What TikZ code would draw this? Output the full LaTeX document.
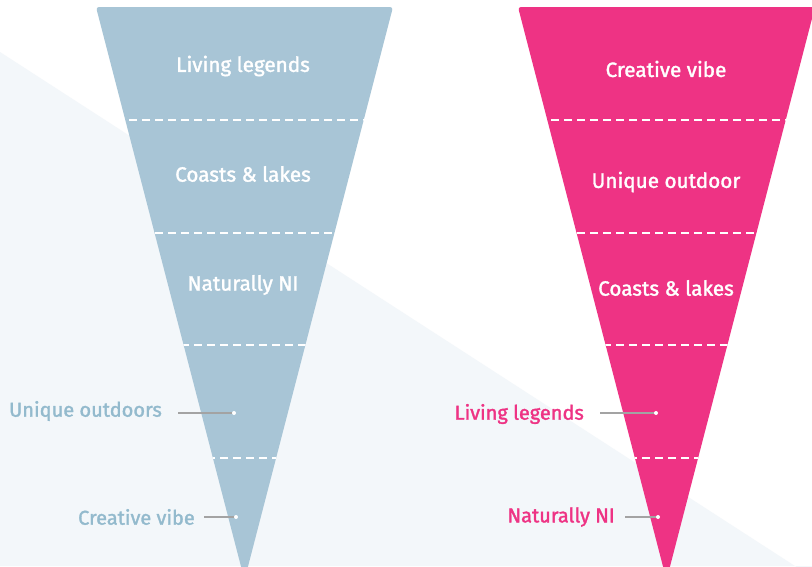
\documentclass[tikz,border=0pt]{standalone}
\usepackage{fontspec}
\setmainfont{Fira Sans}[FakeBold=1.6]
\definecolor{bgl}{HTML}{F3F7FA}
\definecolor{bluef}{HTML}{A8C5D6}
\definecolor{bluet}{HTML}{93BACD}
\definecolor{pinkf}{HTML}{EE3384}
\definecolor{leadc}{HTML}{A3A3A3}
\tikzset{
  inlabel/.style={text=white, font=\fontsize{20.7}{24}\selectfont, inner sep=0pt},
  extlabel/.style={font=\fontsize{20}{24}\selectfont, inner ysep=0pt, inner xsep=0pt, anchor=east},
  leader/.style={draw=leadc, line width=1.1pt},
  dashsep/.style={draw=white, line width=2.8pt, dash pattern=on 8pt off 5pt},
  dotm/.style={fill=white}
}
\begin{document}
\begin{tikzpicture}[x=1pt,y=-1pt]
\clip (0,0) rectangle (812,566);
\fill[white] (0,0) rectangle (812,566);
% background wedge
\fill[bgl] (0,52) -- (812,577) -- (812,566) -- (0,566) -- cycle;
% left funnel
\begin{scope}
\path[fill=bluef, rounded corners=3pt] (96,7) -- (393,7) -- (244.5,580) -- cycle;
\clip (96,7) -- (393,7) -- (244.5,580) -- cycle;
\foreach \yy in {120,233,345,458} \draw[dashsep] (90,\yy) -- (400,\yy);
\end{scope}
% right funnel
\begin{scope}
\path[fill=pinkf, rounded corners=3pt] (518,7) -- (815,7) -- (666.5,580) -- cycle;
\clip (518,7) -- (815,7) -- (666.5,580) -- cycle;
\foreach \yy in {120,233,345,458} \draw[dashsep] (512,\yy) -- (822,\yy);
\end{scope}
% left inner labels
\node[inlabel] (l1) at (243,66) {Living legends};
\node[inlabel] (l2) at (243,174) {Coasts \& lakes};
\node[inlabel] (l3) at (243,285) {Naturally NI};
% right inner labels
\node[inlabel] (r1) at (666,69) {Creative vibe};
\node[inlabel] (r2) at (666,182) {Unique outdoor};
\node[inlabel] (r3) at (666,288) {Coasts \& lakes};
% left external labels
\coordinate (ld1) at (234,413);
\coordinate (ld2) at (236,517);
\node[extlabel, text=bluet] (lu) at (162,411) {Unique outdoors};
\node[extlabel, text=bluet] (lc) at (195,517) {Creative vibe};
\coordinate (ls1) at (178,413);
\coordinate (ls2) at (204,517);
\draw[leader] (ls1) -- (ld1);
\draw[leader] (ls2) -- (ld2);
\fill[dotm] (ld1) circle (2pt);
\fill[dotm] (ld2) circle (2pt);
% right external labels
\coordinate (rd1) at (656,413);
\coordinate (rd2) at (658,517);
\node[extlabel, text=pinkf] (rl) at (584,414) {Living legends};
\node[extlabel, text=pinkf] (rn) at (615,517) {Naturally NI};
\coordinate (rs1) at (600,413);
\coordinate (rs2) at (625,517);
\draw[leader] (rs1) -- (rd1);
\draw[leader] (rs2) -- (rd2);
\fill[dotm] (rd1) circle (2pt);
\fill[dotm] (rd2) circle (2pt);
\end{tikzpicture}
\end{document}
